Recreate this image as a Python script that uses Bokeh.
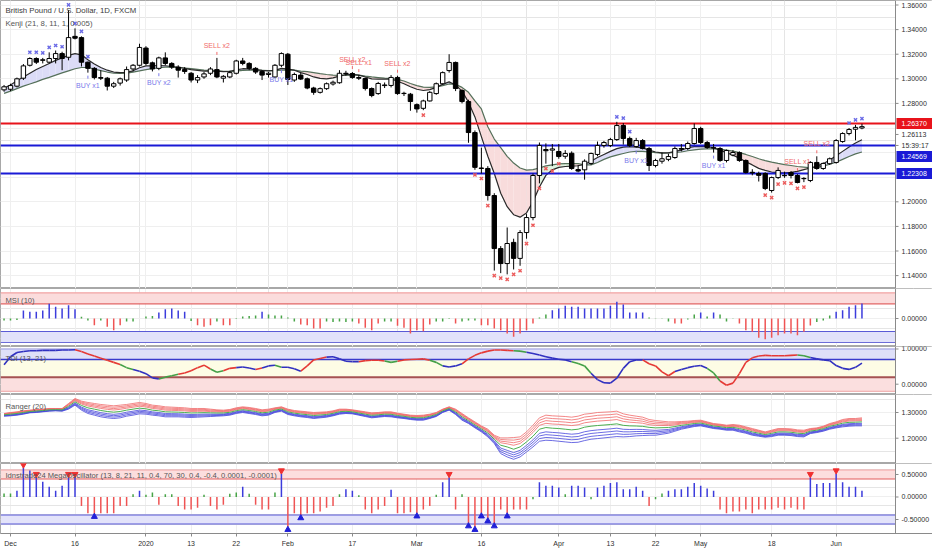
from bokeh.plotting import figure
from bokeh.layouts import column
from bokeh.models import Range1d, FixedTicker, Label, Grid, BoxAnnotation, Span
from bokeh.core.properties import value
from bokeh.embed import file_html
from bokeh.resources import INLINE

FONT = "Liberation Sans"

# ------------------------------------------------------------------ data
bar_index = list(range(-1, 133))
x_ticks = [0, 10, 21, 28, 35, 43, 53, 63, 73, 85, 93, 100, 107, 118, 128]
x_tick_labels = ["Dec", "16", "2020", "13", "22", "Feb", "17", "Mar", "16", "Apr",
                 "13", "22", "May", "18", "Jun"]

opens = [1.2910, 1.2915, 1.2940, 1.3005, 1.3110, 1.3165, 1.3150, 1.3135, 1.3165, 1.3205, 1.3175,
         1.3345, 1.3335, 1.3135, 1.3085, 1.3010, 1.3005, 1.2940, 1.2965, 1.2990, 1.3080,
         1.3110, 1.3250, 1.3130, 1.3085, 1.3170, 1.3125, 1.3095, 1.3075, 1.3045, 1.2990,
         1.3015, 1.3045, 1.3075, 1.3005, 1.3015, 1.3045, 1.3145, 1.3125, 1.3085, 1.3060,
         1.3035, 1.3015, 1.3110, 1.3200, 1.2990, 1.3030, 1.3000, 1.2925, 1.2890, 1.2920,
         1.2958, 1.2968, 1.3045, 1.3043, 1.3010, 1.3002, 1.2921, 1.2880, 1.2950, 1.2946,
         1.3011, 1.2882, 1.2875, 1.2790, 1.2760, 1.2820, 1.2880, 1.2960, 1.3067, 1.3133,
         1.2905, 1.2815, 1.2563, 1.2275, 1.2271, 1.2051, 1.1620, 1.1498, 1.1670, 1.1540,
         1.1750, 1.1872, 1.2214, 1.2425, 1.2420, 1.2409, 1.2370, 1.2395, 1.2262, 1.2260,
         1.2312, 1.2385, 1.2458, 1.2458, 1.2506, 1.2620, 1.2515, 1.2450, 1.2498, 1.2433,
         1.2295, 1.2330, 1.2345, 1.2360, 1.2433, 1.2433, 1.2474, 1.2596, 1.2482, 1.2440,
         1.2433, 1.2336, 1.2380, 1.2400, 1.2336, 1.2240, 1.2230, 1.2230, 1.2092, 1.2197,
         1.2215, 1.2238, 1.2214, 1.2190, 1.2173, 1.2320, 1.2271, 1.2310, 1.2320, 1.2490,
         1.2555, 1.2590, 1.2600]
highs = [1.2950, 1.2960, 1.3010, 1.3120, 1.3175, 1.3175, 1.3170, 1.3215, 1.3230, 1.3220, 1.3560,
         1.3410, 1.3345, 1.3140, 1.3095, 1.3070, 1.3015, 1.2975, 1.3010, 1.3100, 1.3120,
         1.3285, 1.3265, 1.3140, 1.3180, 1.3215, 1.3135, 1.3110, 1.3095, 1.3055, 1.3030,
         1.3055, 1.3095, 1.3170, 1.3030, 1.3065, 1.3155, 1.3170, 1.3135, 1.3095, 1.3070,
         1.3055, 1.3120, 1.3215, 1.3210, 1.3050, 1.3050, 1.3010, 1.2935, 1.2930, 1.2970,
         1.2985, 1.3070, 1.3065, 1.3055, 1.3030, 1.3010, 1.2930, 1.2975, 1.2970, 1.3030,
         1.3025, 1.2895, 1.2885, 1.2800, 1.2830, 1.2900, 1.2970, 1.3060, 1.3200, 1.3140,
         1.2915, 1.2830, 1.2580, 1.2440, 1.2290, 1.2070, 1.1640, 1.1791, 1.1700, 1.1770,
         1.1900, 1.2230, 1.2482, 1.2475, 1.2470, 1.2470, 1.2420, 1.2410, 1.2300, 1.2345,
         1.2400, 1.2490, 1.2495, 1.2520, 1.2650, 1.2640, 1.2530, 1.2520, 1.2510, 1.2445,
         1.2350, 1.2400, 1.2390, 1.2450, 1.2470, 1.2490, 1.2637, 1.2610, 1.2495, 1.2470,
         1.2445, 1.2425, 1.2420, 1.2410, 1.2345, 1.2265, 1.2245, 1.2240, 1.2205, 1.2280,
         1.2245, 1.2250, 1.2225, 1.2200, 1.2330, 1.2370, 1.2320, 1.2360, 1.2510, 1.2565,
         1.2600, 1.2625, 1.2635]
lows = [1.2895, 1.2900, 1.2930, 1.2990, 1.3100, 1.3120, 1.3125, 1.3125, 1.3125, 1.3070, 1.3150,
        1.3320, 1.3100, 1.3050, 1.2995, 1.2990, 1.2905, 1.2925, 1.2945, 1.2975, 1.3060,
        1.3100, 1.3110, 1.3060, 1.3070, 1.3110, 1.3080, 1.3010, 1.3040, 1.2970, 1.2965,
        1.3000, 1.3030, 1.3005, 1.2970, 1.3005, 1.3035, 1.3110, 1.3070, 1.3040, 1.2990,
        1.3010, 1.3005, 1.3095, 1.2950, 1.2975, 1.2990, 1.2915, 1.2870, 1.2880, 1.2910,
        1.2945, 1.2960, 1.3025, 1.3000, 1.2990, 1.2905, 1.2850, 1.2870, 1.2925, 1.2930,
        1.2870, 1.2860, 1.2740, 1.2725, 1.2745, 1.2815, 1.2870, 1.2955, 1.3050, 1.2900,
        1.2800, 1.2480, 1.2260, 1.2230, 1.2010, 1.1441, 1.1420, 1.1410, 1.1450, 1.1480,
        1.1700, 1.1850, 1.2150, 1.2310, 1.2290, 1.2350, 1.2350, 1.2260, 1.2240, 1.2180,
        1.2300, 1.2370, 1.2440, 1.2445, 1.2495, 1.2465, 1.2445, 1.2440, 1.2425, 1.2250,
        1.2280, 1.2310, 1.2330, 1.2350, 1.2410, 1.2420, 1.2465, 1.2470, 1.2430, 1.2400,
        1.2325, 1.2320, 1.2370, 1.2325, 1.2230, 1.2215, 1.2165, 1.2095, 1.2075, 1.2185,
        1.2195, 1.2190, 1.2150, 1.2160, 1.2160, 1.2260, 1.2260, 1.2300, 1.2310, 1.2480,
        1.2540, 1.2500, 1.2590]
closes = [1.2935, 1.2945, 1.3000, 1.3105, 1.3165, 1.3135, 1.3155, 1.3165, 1.3205, 1.3165, 1.3335,
          1.3330, 1.3135, 1.3085, 1.3010, 1.3005, 1.2940, 1.2960, 1.3000, 1.3075, 1.3110,
          1.3255, 1.3125, 1.3080, 1.3170, 1.3125, 1.3095, 1.3070, 1.3060, 1.2990, 1.3010,
          1.3040, 1.3080, 1.3015, 1.3020, 1.3050, 1.3145, 1.3125, 1.3085, 1.3055, 1.3030,
          1.3045, 1.3110, 1.3205, 1.2995, 1.3035, 1.2998, 1.2925, 1.2890, 1.2920, 1.2960,
          1.2972, 1.3045, 1.3040, 1.3011, 1.3005, 1.2921, 1.2864, 1.2962, 1.2945, 1.3011,
          1.2880, 1.2880, 1.2815, 1.2755, 1.2820, 1.2890, 1.2960, 1.3050, 1.3133, 1.2921,
          1.2815, 1.2563, 1.2280, 1.2271, 1.2051, 1.1620, 1.1498, 1.1661, 1.1540, 1.1750,
          1.1872, 1.2214, 1.2458, 1.2415, 1.2430, 1.2368, 1.2393, 1.2271, 1.2250, 1.2330,
          1.2393, 1.2458, 1.2482, 1.2506, 1.2620, 1.2515, 1.2458, 1.2498, 1.2433, 1.2295,
          1.2336, 1.2350, 1.2368, 1.2433, 1.2428, 1.2474, 1.2596, 1.2482, 1.2441, 1.2437,
          1.2336, 1.2417, 1.2401, 1.2336, 1.2238, 1.2235, 1.2215, 1.2108, 1.2197, 1.2255,
          1.2212, 1.2214, 1.2157, 1.2188, 1.2320, 1.2271, 1.2312, 1.2350, 1.2498, 1.2555,
          1.2588, 1.2605, 1.2611]

kenji_fast = [1.2925, 1.2950, 1.2985, 1.3015, 1.3045, 1.3075, 1.3100, 1.3125, 1.3150, 1.3170, 1.3190,
              1.3205, 1.3195, 1.3155, 1.3120, 1.3092, 1.3070, 1.3055, 1.3050, 1.3052, 1.3065,
              1.3090, 1.3105, 1.3105, 1.3108, 1.3106, 1.3100, 1.3094, 1.3085, 1.3075, 1.3068,
              1.3063, 1.3062, 1.3062, 1.3058, 1.3060, 1.3072, 1.3082, 1.3080, 1.3074, 1.3068,
              1.3064, 1.3068, 1.3085, 1.3078, 1.3070, 1.3050, 1.3035, 1.3015, 1.3003, 1.3000,
              1.3008, 1.3022, 1.3033, 1.3036, 1.3030, 1.3015, 1.3000, 1.2998, 1.2998, 1.2998,
              1.2980, 1.2960, 1.2935, 1.2915, 1.2905, 1.2912, 1.2930, 1.2955, 1.2975, 1.2950,
              1.2900, 1.2810, 1.2690, 1.2530, 1.2370, 1.2230, 1.2070, 1.1960, 1.1895, 1.1875,
              1.1910, 1.2000, 1.2120, 1.2215, 1.2260, 1.2280, 1.2287, 1.2290, 1.2293, 1.2305,
              1.2330, 1.2360, 1.2385, 1.2410, 1.2432, 1.2445, 1.2448, 1.2445, 1.2438, 1.2420,
              1.2405, 1.2398, 1.2398, 1.2410, 1.2420, 1.2440, 1.2448, 1.2450, 1.2448, 1.2440,
              1.2420, 1.2400, 1.2378, 1.2355, 1.2325, 1.2300, 1.2272, 1.2255, 1.2242, 1.2238,
              1.2235, 1.2240, 1.2248, 1.2262, 1.2275, 1.2290, 1.2310, 1.2340, 1.2375, 1.2410,
              1.2445, 1.2478, 1.2505]
kenji_slow = [1.2882, 1.2900, 1.2920, 1.2940, 1.2958, 1.2975, 1.2995, 1.3012, 1.3030, 1.3048, 1.3065,
              1.3082, 1.3092, 1.3092, 1.3080, 1.3067, 1.3055, 1.3045, 1.3043, 1.3045, 1.3055,
              1.3065, 1.3075, 1.3082, 1.3090, 1.3095, 1.3095, 1.3092, 1.3088, 1.3082, 1.3076,
              1.3070, 1.3067, 1.3064, 1.3061, 1.3060, 1.3063, 1.3068, 1.3070, 1.3070, 1.3068,
              1.3066, 1.3066, 1.3070, 1.3071, 1.3070, 1.3062, 1.3058, 1.3050, 1.3042, 1.3035,
              1.3030, 1.3028, 1.3030, 1.3032, 1.3030, 1.3022, 1.3015, 1.3010, 1.3005, 1.3002,
              1.2995, 1.2982, 1.2962, 1.2945, 1.2932, 1.2930, 1.2935, 1.2945, 1.2958, 1.2955,
              1.2930, 1.2890, 1.2820, 1.2755, 1.2610, 1.2510, 1.2440, 1.2370, 1.2315, 1.2275,
              1.2258, 1.2262, 1.2275, 1.2292, 1.2300, 1.2308, 1.2311, 1.2311, 1.2311, 1.2300,
              1.2300, 1.2320, 1.2345, 1.2365, 1.2380, 1.2393, 1.2405, 1.2411, 1.2410, 1.2405,
              1.2400, 1.2396, 1.2398, 1.2402, 1.2405, 1.2415, 1.2422, 1.2428, 1.2431, 1.2431,
              1.2428, 1.2420, 1.2412, 1.2400, 1.2385, 1.2368, 1.2350, 1.2335, 1.2322, 1.2312,
              1.2303, 1.2295, 1.2287, 1.2282, 1.2277, 1.2280, 1.2290, 1.2305, 1.2322, 1.2345,
              1.2368, 1.2390, 1.2405]

price_ticks = [1.14, 1.16, 1.18, 1.20, 1.22, 1.24, 1.26, 1.28, 1.30, 1.32, 1.34, 1.36]
hidden_price_ticks = [1.22, 1.24, 1.26]
levels = [1.26370, 1.24569, 1.22308]
level_colors = ["#e8131b", "#1a1ad6", "#1a1ad6"]
last_price = 1.26113
countdown = "15:39:17"

x_above = [3, 4, 5, 6, 7, 8, 9, 10, 11, 12, 94, 95, 96, 130, 131, 132]
x_below = [64, 72, 73, 74, 75, 76, 77, 78, 79, 80, 81, 82, 83, 84, 85,
           117, 118, 119, 120, 121, 122, 123]
signal_bars = [12, 23, 32, 42, 53, 54, 60, 97, 109, 122, 125]
signal_texts = ["BUY x1", "BUY x2", "SELL x2", "BUY x1", "SELL x2", "SELL x1", "SELL x2",
                "BUY x1", "BUY x1", "SELL x1", "SELL x2"]

msi = [-0.2, -0.2, -0.15, 0.8, 0.67, 0.67, 0.8, 1.47, 1.17, 1.0, 1.33,
       0.93, 0.17, -0.2, -0.67, -0.2, -0.83, -1.17, -0.67, -0.3, -0.3,
       0.0, 0.2, 0.25, 0.6, 0.93, 1.0, 0.8, 0.67, -0.25, -0.67,
       -0.83, -0.67, -0.3, -0.67, -0.67, 0.05, 0.2, 0.25, 0.3, 0.67,
       0.4, 0.3, 0.3, 0.1, -0.3, -0.6, -0.67, -1.0, -1.0, -0.3,
       -0.35, -0.3, -0.35, -0.3, -0.5, -0.93, -1.17, -0.5, -0.3, -0.3,
       -0.73, -0.93, -1.5, -1.17, -1.27, -0.6, -0.3, -0.3, 0.05, -0.5,
       -0.3, -0.2, -0.2, -0.67, -0.67, -1.0, -1.17, -1.5, -1.83, -1.5,
       -1.17, -0.5, 0.1, 0.4, 0.83, 1.0, 1.27, 1.17, 1.17, 1.0,
       1.0, 1.0, 1.0, 1.27, 1.67, 1.4, 0.6, 0.6, 0.6, 0.1,
       0.02, 0.02, -0.3, -0.5, -0.5, -0.1, 0.4, 0.6, 0.2, 0.6,
       0.4, -0.3, 0.02, -0.5, -1.17, -1.33, -1.93, -2.07, -1.93, -1.67,
       -1.5, -1.5, -1.67, -1.33, -0.7, -0.35, -0.2, 0.3, 0.67, 0.83,
       1.17, 1.33, 1.5]

tdi = [0.55, 0.78, 0.90, 0.93, 0.95, 0.95, 0.96, 0.96, 0.96, 0.97, 0.97,
       0.98, 0.93, 0.86, 0.80, 0.74, 0.68, 0.62, 0.56, 0.47, 0.42,
       0.37, 0.30, 0.18, 0.15, 0.20, 0.24, 0.28, 0.32, 0.38, 0.47,
       0.54, 0.43, 0.34, 0.38, 0.45, 0.47, 0.49, 0.46, 0.42, 0.46,
       0.52, 0.54, 0.48, 0.48, 0.44, 0.37, 0.52, 0.69, 0.73, 0.77,
       0.78, 0.72, 0.65, 0.64, 0.64, 0.67, 0.68, 0.68, 0.66, 0.62,
       0.65, 0.69, 0.70, 0.71, 0.72, 0.68, 0.62, 0.52, 0.49, 0.52,
       0.58, 0.72, 0.82, 0.89, 0.94, 0.97, 0.97, 0.96, 0.95, 0.94,
       0.91, 0.87, 0.83, 0.78, 0.74, 0.71, 0.69, 0.64, 0.59, 0.52,
       0.31, 0.13, 0.04, 0.03, 0.17, 0.45, 0.64, 0.69, 0.69, 0.58,
       0.52, 0.35, 0.24, 0.36, 0.42, 0.47, 0.51, 0.53, 0.45, 0.32,
       0.09, -0.03, 0.03, 0.30, 0.62, 0.75, 0.80, 0.82, 0.81, 0.81,
       0.81, 0.82, 0.83, 0.81, 0.76, 0.72, 0.69, 0.67, 0.53, 0.45,
       0.42, 0.48, 0.60]
tdi_state = ("bbbbbbbbbbb rrrrrrr gg bbbb ggg rrrrr gg rr bbb r bb g bbb rrrr bbbbb rrrr gg "
             "rrrrr gg bbb rrrrrrrr gg bbbbbbb ggg bbbbbbbb rrrrr bbbbb gg rrrrrrrrrrrr gg bbbbbbbbb")

rng_top = [1.2961, 1.3000, 1.3026, 1.3065, 1.3091, 1.3117, 1.3130, 1.3156, 1.3156, 1.3156, 1.3351,
           1.3546, 1.3442, 1.3390, 1.3351, 1.3312, 1.3286, 1.3260, 1.3286, 1.3312, 1.3351,
           1.3390, 1.3351, 1.3286, 1.3260, 1.3221, 1.3208, 1.3195, 1.3182, 1.3156, 1.3156,
           1.3156, 1.3130, 1.3104, 1.3091, 1.3117, 1.3182, 1.3221, 1.3195, 1.3156, 1.3104,
           1.3130, 1.3182, 1.3221, 1.3130, 1.3078, 1.3052, 1.3026, 1.3000, 1.3013, 1.3026,
           1.3065, 1.3130, 1.3130, 1.3104, 1.3065, 1.3026, 1.2987, 1.3000, 1.3026, 1.3026,
           1.2974, 1.2935, 1.2896, 1.2883, 1.2896, 1.2935, 1.3000, 1.3130, 1.3221, 1.3130,
           1.2961, 1.2792, 1.2636, 1.2480, 1.2350, 1.2116, 1.2012, 1.2012, 1.2025, 1.2051,
           1.2246, 1.2506, 1.2792, 1.2896, 1.2870, 1.2857, 1.2844, 1.2818, 1.2857, 1.2935,
           1.2961, 1.3000, 1.3013, 1.3026, 1.3052, 1.2948, 1.2896, 1.2857, 1.2818, 1.2727,
           1.2688, 1.2662, 1.2636, 1.2636, 1.2649, 1.2662, 1.2688, 1.2701, 1.2636, 1.2571,
           1.2545, 1.2506, 1.2532, 1.2506, 1.2441, 1.2376, 1.2311, 1.2246, 1.2311, 1.2376,
           1.2376, 1.2363, 1.2324, 1.2311, 1.2376, 1.2402, 1.2467, 1.2571, 1.2636, 1.2727,
           1.2766, 1.2766, 1.2792]
rng_mid = [1.2909, 1.2935, 1.2961, 1.3000, 1.3039, 1.3058, 1.3078, 1.3104, 1.3110, 1.3104, 1.3240,
           1.3416, 1.3273, 1.3182, 1.3130, 1.3078, 1.3039, 1.3013, 1.3039, 1.3091, 1.3130,
           1.3169, 1.3143, 1.3091, 1.3065, 1.3026, 1.3020, 1.3013, 1.3000, 1.2981, 1.2987,
           1.2994, 1.2987, 1.2981, 1.2981, 1.3007, 1.3072, 1.3111, 1.3078, 1.3039, 1.2987,
           1.3013, 1.3091, 1.3137, 1.3026, 1.2974, 1.2942, 1.2916, 1.2883, 1.2903, 1.2922,
           1.2968, 1.3033, 1.3046, 1.3026, 1.2981, 1.2935, 1.2890, 1.2909, 1.2935, 1.2929,
           1.2883, 1.2851, 1.2812, 1.2792, 1.2799, 1.2851, 1.2922, 1.3065, 1.3156, 1.3026,
           1.2831, 1.2682, 1.2519, 1.2363, 1.2201, 1.1960, 1.1726, 1.1661, 1.1570, 1.1661,
           1.1856, 1.2077, 1.2350, 1.2415, 1.2389, 1.2376, 1.2350, 1.2324, 1.2350, 1.2428,
           1.2467, 1.2493, 1.2512, 1.2532, 1.2558, 1.2500, 1.2480, 1.2474, 1.2461, 1.2422,
           1.2402, 1.2409, 1.2415, 1.2454, 1.2500, 1.2532, 1.2571, 1.2590, 1.2532, 1.2474,
           1.2448, 1.2409, 1.2422, 1.2376, 1.2318, 1.2246, 1.2194, 1.2142, 1.2188, 1.2246,
           1.2246, 1.2233, 1.2194, 1.2181, 1.2278, 1.2311, 1.2370, 1.2461, 1.2519, 1.2584,
           1.2617, 1.2623, 1.2636]
rng_bot = [1.2857, 1.2870, 1.2896, 1.2935, 1.2987, 1.3000, 1.3026, 1.3052, 1.3065, 1.3052, 1.3130,
           1.3286, 1.3091, 1.2961, 1.2896, 1.2831, 1.2792, 1.2766, 1.2792, 1.2857, 1.2896,
           1.2948, 1.2935, 1.2896, 1.2870, 1.2831, 1.2831, 1.2831, 1.2818, 1.2805, 1.2818,
           1.2831, 1.2844, 1.2857, 1.2870, 1.2896, 1.2961, 1.3000, 1.2961, 1.2922, 1.2870,
           1.2896, 1.3000, 1.3052, 1.2922, 1.2870, 1.2831, 1.2805, 1.2766, 1.2792, 1.2818,
           1.2870, 1.2935, 1.2961, 1.2948, 1.2896, 1.2844, 1.2792, 1.2818, 1.2844, 1.2831,
           1.2792, 1.2766, 1.2727, 1.2701, 1.2701, 1.2766, 1.2844, 1.3000, 1.3091, 1.2922,
           1.2701, 1.2571, 1.2402, 1.2246, 1.2051, 1.1791, 1.1401, 1.1271, 1.1180, 1.1271,
           1.1466, 1.1661, 1.1882, 1.1921, 1.1908, 1.1882, 1.1856, 1.1830, 1.1843, 1.1908,
           1.1960, 1.1986, 1.2012, 1.2038, 1.2064, 1.2051, 1.2064, 1.2090, 1.2103, 1.2116,
           1.2116, 1.2155, 1.2194, 1.2272, 1.2350, 1.2402, 1.2454, 1.2480, 1.2428, 1.2376,
           1.2350, 1.2311, 1.2311, 1.2246, 1.2194, 1.2116, 1.2077, 1.2038, 1.2064, 1.2116,
           1.2116, 1.2103, 1.2064, 1.2051, 1.2181, 1.2220, 1.2272, 1.2350, 1.2402, 1.2441,
           1.2467, 1.2480, 1.2480]

mega = [0.08, 0.08, 0.14, 0.65, 0.59, 0.44, 0.34, 0.23, 0.14, 0.25, 0.44,
        0.44, -0.20, -0.36, -0.37, -0.36, -0.36, -0.36, -0.20, -0.20, 0.06,
        0.14, 0.05, 0.10, -0.17, 0.06, 0.06, -0.20, -0.28, -0.28, -0.24,
        0.05, -0.20, -0.28, -0.17, 0.07, 0.10, 0.23, 0.07, -0.17, -0.28,
        -0.28, 0.10, 0.52, -0.66, -0.36, -0.40, -0.36, -0.36, -0.32, -0.24,
        -0.20, 0.06, 0.17, 0.14, 0.04, -0.28, -0.36, -0.28, -0.20, 0.16,
        -0.36, -0.36, -0.34, -0.36, -0.28, -0.20, 0.05, 0.33, 0.44, -0.28,
        0.06, -0.58, -0.66, -0.36, -0.47, -0.58, -0.28, -0.36, -0.28, -0.28,
        -0.28, -0.05, 0.33, 0.25, 0.25, 0.21, 0.06, 0.25, 0.25, 0.21,
        -0.05, 0.21, 0.25, 0.31, 0.33, 0.17, 0.17, 0.23, 0.14, -0.20,
        -0.05, 0.08, 0.14, 0.17, 0.17, 0.23, 0.31, 0.25, 0.19, 0.14,
        -0.28, -0.36, -0.32, -0.32, -0.28, -0.36, -0.28, -0.28, -0.28, -0.24,
        -0.28, -0.24, -0.28, -0.28, 0.44, 0.29, 0.31, 0.31, 0.52, 0.33,
        0.23, 0.23, 0.14]
mega_sell = [2, 4, 9, 10, 42, 68, 124, 128]
mega_buy = [13, 43, 45, 63, 71, 72, 73, 74, 75, 77]

N = len(bar_index)
for arr in (opens, highs, lows, closes, kenji_fast, kenji_slow, msi, tdi,
            rng_top, rng_mid, rng_bot, mega):
    assert len(arr) == N, len(arr)
tdi_state = tdi_state.replace(" ", "")
assert len(tdi_state) == N, len(tdi_state)

# ------------------------------------------------------------------ layout
W = 932
PLOT_W = 895                      # price-scale starts here
XMIN = -1.55
XPX = 138.75 / PLOT_W             # data units per pixel along x
XAX = XMIN + PLOT_W * XPX         # data x of the price-scale line
XMAX = XMIN + W * XPX
H_MAIN, H_MSI, H_TDI, H_RNG, H_MEGA, H_AX = 288, 58, 48, 69, 70, 17
R_MAIN = (1.12952, 1.36366)
R_MSI = (-2.8, 3.0)
R_TDI = (-0.293, 1.071)
R_RNG = (1.1016, 1.370)
R_MEGA = (-0.811, 0.744)

GRID = "#efefef"
AXC = "#8a8a8a"
TXT = "#2f2f2f"
xr = Range1d(XMIN, XMAX)


def make_fig(h, yr, yticks, bottom=False):
    p = figure(width=W, height=h + (H_AX if bottom else 0), x_range=xr,
               y_range=Range1d(*yr), title=None, toolbar_location=None, tools="",
               output_backend="svg", x_axis_location="below" if bottom else None,
               y_axis_location=None, min_border_left=0, min_border_right=0,
               min_border_top=0, min_border_bottom=H_AX if bottom else 0,
               background_fill_color="white", border_fill_color="white",
               outline_line_color="#a8a8a8", outline_line_width=1)
    p.add_layout(Grid(dimension=1, ticker=FixedTicker(ticks=yticks), grid_line_color=GRID))
    if bottom:
        xa = p.xaxis[0]
        xa.ticker = FixedTicker(ticks=x_ticks)
        xa.major_label_overrides = {t: s for t, s in zip(x_ticks, x_tick_labels)}
        xa.major_label_text_font = FONT
        xa.major_label_text_font_size = "7px"
        xa.major_label_text_color = TXT
        xa.major_tick_out = 3
        xa.major_tick_in = 0
        xa.minor_tick_out = 0
        xa.minor_tick_in = 0
        xa.major_label_standoff = 3
        xa.axis_line_color = AXC
        xa.major_tick_line_color = AXC
        p.xgrid.grid_line_color = GRID
    else:
        p.add_layout(Grid(dimension=0, ticker=FixedTicker(ticks=x_ticks), grid_line_color=GRID))
    return p


def price_scale(p, yr, h, ticks, labels):
    """draw the right-hand scale (white strip, line, ticks, labels) inside the frame"""
    dpp = (yr[1] - yr[0]) / h
    p.quad(left=[XAX], right=[XMAX], bottom=[yr[0]], top=[yr[1]],
           fill_color="white", line_alpha=0)
    p.segment(x0=[XAX], y0=[yr[0]], x1=[XAX], y1=[yr[1]], line_color=AXC, line_width=1)
    p.segment(x0=[XAX] * len(ticks), y0=ticks, x1=[XAX + 3 * XPX] * len(ticks), y1=ticks,
              line_color=AXC, line_width=1)
    p.text(x=[XAX + 6 * XPX] * len(ticks), y=ticks, text=labels, text_font=value(FONT),
           text_font_size="7px", text_color=TXT, text_baseline="middle", text_align="left")
    return dpp


def panel_title(p, yr, h, text):
    dpp = (yr[1] - yr[0]) / h
    p.text(x=[XMIN + 5 * XPX], y=[yr[1] - 12 * dpp], text=[text], text_font=value(FONT),
           text_font_size="7.6px", text_color="#555555", text_baseline="middle",
           text_align="left")


# ------------------------------------------------------------------ main
main = make_fig(H_MAIN, R_MAIN, price_ticks)
dpp = (R_MAIN[1] - R_MAIN[0]) / H_MAIN

# Kenji cloud
xs, ys, cols = [], [], []
for k in range(N - 1):
    xs.append([bar_index[k], bar_index[k + 1], bar_index[k + 1], bar_index[k]])
    ys.append([kenji_fast[k], kenji_fast[k + 1], kenji_slow[k + 1], kenji_slow[k]])
    if kenji_fast[k] >= kenji_slow[k]:
        cols.append("#dcdcf7")
    elif closes[k] > kenji_slow[k]:
        cols.append("#dff3df")
    else:
        cols.append("#f8dcdc")
main.patches(xs, ys, fill_color=cols, line_alpha=0, fill_alpha=1)
main.line(bar_index, kenji_slow, line_color="#55705a", line_width=1.2)
main.line(bar_index, kenji_fast, line_color="#2a2a2a", line_width=1.2)

for lv, lc in zip(levels, level_colors):
    main.line([XMIN, XAX], [lv, lv], line_color=lc, line_width=2)

# candles
up = [k for k in range(N) if closes[k] >= opens[k]]
dn = [k for k in range(N) if closes[k] < opens[k]]
main.segment(x0=bar_index, y0=lows, x1=bar_index, y1=highs, line_color="black", line_width=1)
main.vbar(x=[bar_index[k] for k in up], width=0.68, top=[closes[k] for k in up],
          bottom=[opens[k] for k in up], fill_color="white", line_color="black", line_width=1)
main.vbar(x=[bar_index[k] for k in dn], width=0.68, top=[opens[k] for k in dn],
          bottom=[closes[k] for k in dn], fill_color="black", line_color="black", line_width=1)

# x markers
main.scatter(x_above, [highs[i + 1] + 5 * dpp for i in x_above], marker="x",
             size=4.5, line_color="#6a6ae6", line_width=1.4)
main.scatter(x_below, [lows[i + 1] - 5 * dpp for i in x_below], marker="x",
             size=4.5, line_color="#ec5b5b", line_width=1.4)

# BUY / SELL signals
for b, t in zip(signal_bars, signal_texts):
    if t.startswith("BUY"):
        base, sgn, col = lows[b + 1], -1, "#7a7aea"
    else:
        base, sgn, col = highs[b + 1], 1, "#f06a6a"
    main.segment(x0=[b], y0=[base + sgn * 3 * dpp], x1=[b], y1=[base + sgn * 6 * dpp],
                 line_color=col, line_width=1)
    main.text(x=[b], y=[base + sgn * 12.5 * dpp], text=[t], text_font=value(FONT),
              text_font_size="7px", text_color=col, text_align="center",
              text_baseline="middle")

main.text(x=[XMIN + 5 * XPX], y=[R_MAIN[1] - 10 * dpp],
          text=["British Pound / U.S. Dollar, 1D, FXCM"], text_font=value(FONT),
          text_font_size="7.8px", text_color="#3a3a3a", text_baseline="middle", text_align="left")
main.text(x=[XMIN + 5 * XPX], y=[R_MAIN[1] - 23 * dpp],
          text=["Kenji (21, 8, 11, 1, 0.005)"], text_font=value(FONT),
          text_font_size="7.8px", text_color="#555555", text_baseline="middle", text_align="left")

shown = [t for t in price_ticks if all(abs(t - h) > 1e-9 for h in hidden_price_ticks)]
price_scale(main, R_MAIN, H_MAIN, shown, ["%.5f" % t for t in shown])

# price-scale tags, stacked so they do not overlap
scale_items = [("%.5f" % levels[0], levels[0], level_colors[0], "white"),
               ("%.5f" % last_price, last_price, None, TXT),
               (countdown, last_price, None, TXT),
               ("%.5f" % levels[1], levels[1], level_colors[1], "white"),
               ("%.5f" % levels[2], levels[2], level_colors[2], "white")]
prev = -100.0
for txt, lvl, bg, fg in scale_items:
    ypx = max((R_MAIN[1] - lvl) / dpp, prev + 11)
    prev = ypx
    yc = R_MAIN[1] - ypx * dpp
    if bg:
        main.quad(left=[XAX + 1 * XPX], right=[XMAX], bottom=[yc - 5.5 * dpp],
                  top=[yc + 5.5 * dpp], fill_color=bg, line_alpha=0)
    else:
        main.segment(x0=[XAX], y0=[yc], x1=[XAX + 3 * XPX], y1=[yc], line_color=AXC)
    main.text(x=[XAX + 6 * XPX], y=[yc], text=[txt], text_font=value(FONT),
              text_font_size="7px", text_color=fg, text_baseline="middle", text_align="left")

# ------------------------------------------------------------------ MSI
pm = make_fig(H_MSI, R_MSI, [0])
pm.add_layout(BoxAnnotation(left=XMIN, right=XAX, bottom=1.47, top=2.57, fill_color="#fbdcdc",
                            fill_alpha=1, line_alpha=0, level="underlay"))
pm.add_layout(BoxAnnotation(left=XMIN, right=XAX, bottom=-2.4, top=-1.3, fill_color="#e2e2fa",
                            fill_alpha=1, line_alpha=0, level="underlay"))
for lv, lc in ((2.57, "#f2a3a3"), (1.47, "#e26464"), (-1.3, "#5a5ad6"), (-2.4, "#6c6cd8")):
    pm.line([XMIN, XAX], [lv, lv], line_color=lc, line_width=1.2)
msi_col = ["#3c3cdc" if v >= 0.5 else ("#ef5454" if v <= -0.5 else "#47a447") for v in msi]
pm.segment(x0=bar_index, y0=[0] * N, x1=bar_index, y1=msi, line_color=msi_col, line_width=1.5)
panel_title(pm, R_MSI, H_MSI, "MSI (10)")
price_scale(pm, R_MSI, H_MSI, [0], ["0.00000"])

# ------------------------------------------------------------------ TDI
pt = make_fig(H_TDI, R_TDI, [0, 1])
for lo, hi, fc in ((0.7, 1.0, "#dfe0f8"), (0.2, 0.7, "#fdfce5"), (-0.2, 0.2, "#fbdfdf")):
    pt.add_layout(BoxAnnotation(left=XMIN, right=XAX, bottom=lo, top=hi, fill_color=fc,
                                fill_alpha=1, line_alpha=0, level="underlay"))
for lv, lc, lw in ((1.0, "#9c9ce4", 1.2), (0.7, "#3a3acc", 1.5), (0.2, "#a55252", 2),
                   (-0.2, "#f2a6a6", 1.2)):
    pt.line([XMIN, XAX], [lv, lv], line_color=lc, line_width=lw)
tdi_cmap = {"b": "#3030c0", "r": "#e53935", "g": "#43a047"}
pt.segment(x0=bar_index[:-1], y0=tdi[:-1], x1=bar_index[1:], y1=tdi[1:],
           line_color=[tdi_cmap[c] for c in tdi_state[:-1]], line_width=1.6)
panel_title(pt, R_TDI, H_TDI, "TDI (13, 21)")
price_scale(pt, R_TDI, H_TDI, [0, 1], ["0.00000", "1.00000"])

# ------------------------------------------------------------------ Ranger
pr = make_fig(H_RNG, R_RNG, [1.2, 1.3])
for k in range(4):
    pr.line(bar_index, [t - k * 0.22 * (t - m) for t, m in zip(rng_top, rng_mid)],
            line_color="#f06868", line_width=0.8)
    pr.line(bar_index, [b + k * 0.22 * (m - b) for b, m in zip(rng_bot, rng_mid)],
            line_color="#4646dc", line_width=0.8)
pr.line(bar_index, rng_mid, line_color="#4caf50", line_width=1)
panel_title(pr, R_RNG, H_RNG, "Ranger (20)")
price_scale(pr, R_RNG, H_RNG, [1.2, 1.3], ["1.20000", "1.30000"])

# ------------------------------------------------------------------ Mega oscillator
pg = make_fig(H_MEGA, R_MEGA, [-0.5, 0, 0.5], bottom=True)
pg.add_layout(BoxAnnotation(left=XMIN, right=XAX, bottom=0.4, top=0.6, fill_color="#fcdede",
                            fill_alpha=1, line_alpha=0, level="underlay"))
pg.add_layout(BoxAnnotation(left=XMIN, right=XAX, bottom=-0.6, top=-0.4, fill_color="#e3e3fa",
                            fill_alpha=1, line_alpha=0, level="underlay"))
for lv, lc in ((0.6, "#f2a3a3"), (0.4, "#e25c5c"), (-0.4, "#5656d6"), (-0.6, "#5656d6")):
    pg.line([XMIN, XAX], [lv, lv], line_color=lc, line_width=1.2)
mega_col = ["#3c3cdc" if v > 0.12 else ("#ef5454" if v < -0.12 else "#47a447") for v in mega]
pg.segment(x0=bar_index, y0=[0] * N, x1=bar_index, y1=mega, line_color=mega_col, line_width=1.5)
gdp = (R_MEGA[1] - R_MEGA[0]) / H_MEGA
pg.scatter(mega_sell, [mega[i + 1] + 3 * gdp for i in mega_sell], marker="inverted_triangle",
           size=6, fill_color="#f03030", line_color="#f03030")
pg.scatter(mega_buy, [mega[i + 1] - 3 * gdp for i in mega_buy], marker="triangle",
           size=6, fill_color="#2020d8", line_color="#2020d8")
panel_title(pg, R_MEGA, H_MEGA,
            "Idnstrade24 MegaOscillator (13, 8, 21, 11, 0.4, 70, 30, 0.4, -0.4, 0.0001, -0.0001)")
price_scale(pg, R_MEGA, H_MEGA, [-0.5, 0, 0.5], ["-0.50000", "0.00000", "0.50000"])

layout = column(main, pm, pt, pr, pg, spacing=0)
open("out.html", "w").write(file_html(layout, INLINE, "GBPUSD"))
